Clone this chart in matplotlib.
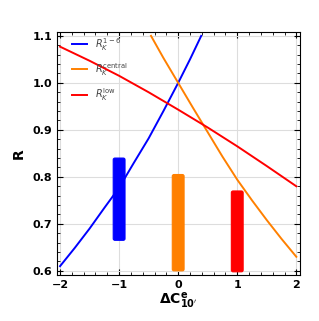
import matplotlib
matplotlib.use("Agg")
import matplotlib.pyplot as plt
from matplotlib.ticker import MultipleLocator
from matplotlib.patches import FancyBboxPatch

# Curve data
blue_x = [-2.0, -1.75, -1.5, -1.25, -1.0, -0.75, -0.5, -0.25, 0.0, 0.2, 0.39]
blue_y = [0.61, 0.649, 0.69, 0.734, 0.777, 0.830, 0.882, 0.940, 1.0, 1.05, 1.1]
orange_x = [-0.46, -0.25, 0.0, 0.25, 0.5, 0.75, 1.0, 1.25, 1.5, 1.75, 2.0]
orange_y = [1.1, 1.053, 1.0, 0.947, 0.895, 0.843, 0.794, 0.750, 0.708, 0.668, 0.63]
red_x = [-2.0, -1.5, -1.0, -0.5, 0.0, 0.5, 1.0, 1.5, 2.0]
red_y = [1.077, 1.047, 1.015, 0.980, 0.943, 0.905, 0.865, 0.823, 0.78]

# Bars (experimental ranges)
bar_x = [-1.0, 0.0, 1.0]
bar_lo = [0.665, 0.60, 0.598]
bar_hi = [0.84, 0.805, 0.77]
colors = ["#0000ff", "#ff8000", "#ff0000"]
labels = [r"$R_K^{1-6}$", r"$R_K^{\rm central}$", r"$R_K^{\rm low}$"]

fig = plt.figure(figsize=(3.19, 3.21), dpi=100)
ax = fig.add_axes([0.179, 0.143, 0.761, 0.757])

ax.grid(True, color="#dddddd", linewidth=0.8)
ax.set_axisbelow(True)

ax.plot(blue_x, blue_y, color=colors[0], lw=1.4, label=labels[0])
ax.plot(orange_x, orange_y, color=colors[1], lw=1.4, label=labels[1])
ax.plot(red_x, red_y, color=colors[2], lw=1.4, label=labels[2])

w = 0.2
for x, lo, hi, c in zip(bar_x, bar_lo, bar_hi, colors):
    p = FancyBboxPatch((x - w / 2, lo), w, hi - lo,
                       boxstyle="round,pad=0,rounding_size=0.03",
                       mutation_aspect=0.12,
                       facecolor=c, edgecolor=c, linewidth=0.8, zorder=3)
    ax.add_patch(p)

ax.set_xlim(-2.05, 2.06)
ax.set_ylim(0.591, 1.108)
ax.xaxis.set_minor_locator(MultipleLocator(0.2))
ax.yaxis.set_minor_locator(MultipleLocator(0.02))
ax.tick_params(which="both", direction="in", top=True, right=True, labelsize=8)
ax.tick_params(which="major", length=4)
ax.tick_params(which="minor", length=2)
ax.set_xticks([-2, -1, 0, 1, 2])
ax.set_xticklabels(["\u22122", "\u22121", "0", "1", "2"], fontweight="bold")
ax.set_yticks([0.6, 0.7, 0.8, 0.9, 1.0, 1.1])
ax.set_yticklabels(["0.6", "0.7", "0.8", "0.9", "1.0", "1.1"], fontweight="bold")

ax.set_xlabel(r"$\mathbf{\Delta C^{e}_{10'}}$", fontsize=10, labelpad=1)
ax.set_ylabel("R", fontsize=10, fontweight="bold", labelpad=5)

ax.legend(loc="upper left", bbox_to_anchor=(0.025, 1.02), frameon=False,
          fontsize=7, handlelength=1.6, labelspacing=0.85,
          labelcolor="#444444")

fig.savefig("out.png", dpi=100)
